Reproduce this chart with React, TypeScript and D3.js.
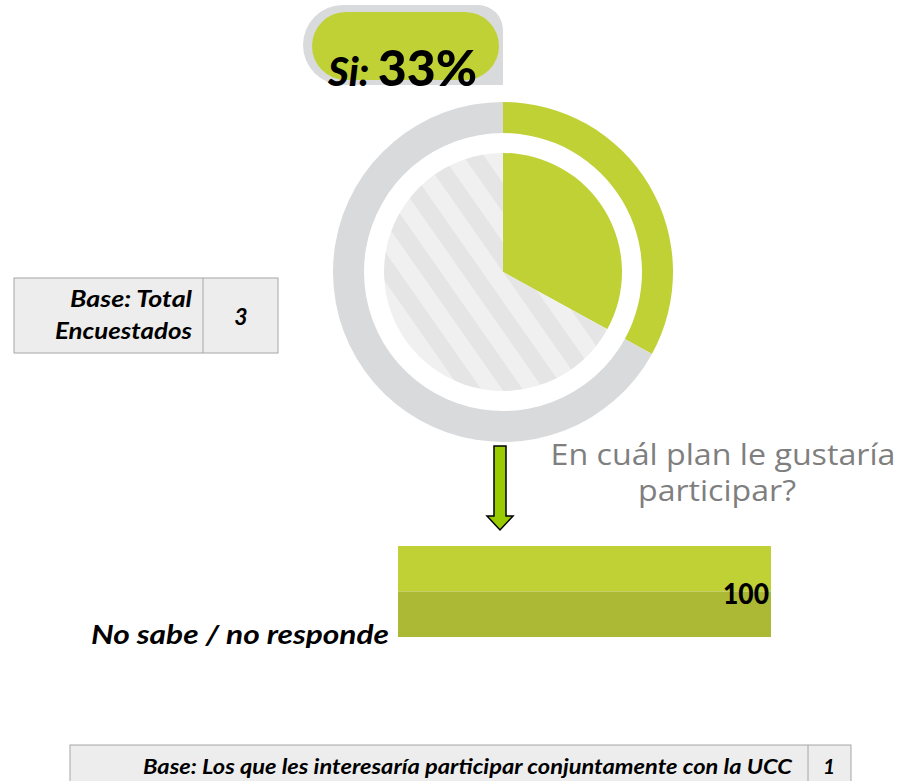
import React from "react";
import * as d3 from "d3";

const donutLabels = ["Si", "No"];
const donutValues = [33, 67];
const barCategories = ["No sabe / no responde"];
const barValues = [100];
const baseTotalLabel = ["Base: Total", "Encuestados"];
const baseTotalValue = 3;
const baseSubLabel = "Base: Los que les interesaría participar conjuntamente con la UCC";
const baseSubValue = 1;
const questionLines = ["En cuál plan le gustaría", "participar?"];

const GREEN = "#c0d136";
const GREEN_DARK = "#abb935";
const GREY_RING = "#d9dadc";
const CAL = "Lato, 'Liberation Sans', sans-serif";
const Q = "'Open Sans', 'Noto Sans', sans-serif";

export default function App() {
  const cx = 503;
  const cy = 272;
  const pie = d3.pie<number>().sort(null).value((d) => d);
  const arcs = pie(donutValues);
  const ringArc = d3.arc<d3.PieArcDatum<number>>().innerRadius(139).outerRadius(170);
  const innerArc = d3.arc<d3.PieArcDatum<number>>().innerRadius(0).outerRadius(119);

  const x = d3.scaleLinear().domain([0, 100]).range([398, 771]);
  const y = d3.scaleBand().domain(barCategories).range([546, 637]).padding(0);

  return (
    <svg width={900} height={781} style={{ position: "absolute", left: 0, top: 0 }}>
      <defs>
        <pattern id="stripes" patternUnits="userSpaceOnUse" width={34} height={34} patternTransform="rotate(-35)">
          <rect x={0} y={0} width={34} height={34} fill="#f0f0f0" />
          <rect x={0} y={0} width={17} height={34} fill="#e5e5e5" />
        </pattern>
      </defs>
      <rect width={900} height={781} fill="#ffffff" />

      {/* Top label pill */}
      <path d="M303,45 A40,40 0 0 1 343,5 L478,5 A25,25 0 0 1 503,30 L503,85 L343,85 A40,40 0 0 1 303,45 Z" fill={GREY_RING} />
      <rect x={312} y={12} width={187} height={68} rx={34} fill={GREEN} />
      <text x={328} y={86} fontFamily={CAL} fill="#000">
        <tspan fontStyle="italic" fontWeight={900} fontSize={40}>{donutLabels[0]}: </tspan>
        <tspan fontWeight={900} fontSize={50}>{`${donutValues[0]}%`}</tspan>
      </text>

      {/* Donut */}
      <g transform={`translate(${cx},${cy})`}>
        {arcs.map((a, i) => (
          <path key={"r" + i} d={ringArc(a) || ""} fill={i === 0 ? GREEN : GREY_RING} />
        ))}
        {arcs.map((a, i) => (
          <path key={"p" + i} d={innerArc(a) || ""} fill={i === 0 ? GREEN : "url(#stripes)"} />
        ))}
      </g>

      {/* Base total table */}
      <rect x={14} y={278} width={264} height={75} fill="#ededed" stroke="#a6a6a6" strokeWidth={1} />
      <line x1={203} y1={278} x2={203} y2={353} stroke="#a6a6a6" />
      <text x={192} y={307} textAnchor="end" fontFamily={CAL} fontStyle="italic" fontWeight={700} fontSize={23} fill="#000" textLength={122} lengthAdjust="spacingAndGlyphs">{baseTotalLabel[0]}</text>
      <text x={192} y={339} textAnchor="end" fontFamily={CAL} fontStyle="italic" fontWeight={700} fontSize={23} fill="#000" textLength={137} lengthAdjust="spacingAndGlyphs">{baseTotalLabel[1]}</text>
      <text x={241} y={325} textAnchor="middle" fontFamily={CAL} fontStyle="italic" fontWeight={700} fontSize={23} fill="#000">{baseTotalValue}</text>

      {/* Question */}
      <text x={723} y={465} textAnchor="middle" fontFamily={Q} fontSize={30} fill="#7f7f7f" textLength={345} lengthAdjust="spacingAndGlyphs">{questionLines[0]}</text>
      <text x={717} y={501} textAnchor="middle" fontFamily={Q} fontSize={30} fill="#7f7f7f" textLength={158} lengthAdjust="spacingAndGlyphs">{questionLines[1]}</text>

      {/* Arrow */}
      <path d="M494,446 L506,446 L506,516 L513,516 L500,530 L487,516 L494,516 Z" fill="#99cc00" stroke="#000" strokeWidth={1.5} strokeLinejoin="miter" />

      {/* Bar */}
      {barCategories.map((c, i) => {
        const y0 = y(c) as number;
        const h = y.bandwidth();
        const w = x(barValues[i]) - x(0);
        return (
          <g key={c}>
            <rect x={x(0)} y={y0} width={w} height={h / 2} fill={GREEN} />
            <rect x={x(0)} y={y0 + h / 2} width={w} height={h / 2} fill={GREEN_DARK} />
            <text x={x(barValues[i]) - 2} y={y0 + h / 2 + 12} textAnchor="end" fontFamily={CAL} fontWeight={900} fontSize={29} fill="#000" textLength={46} lengthAdjust="spacingAndGlyphs">{barValues[i]}</text>
            <text x={389} y={644} textAnchor="end" fontFamily={CAL} fontStyle="italic" fontWeight={700} fontSize={27} fill="#000" textLength={298} lengthAdjust="spacingAndGlyphs">{c}</text>
          </g>
        );
      })}

      {/* Bottom base table */}
      <rect x={70} y={745} width={781} height={50} fill="#ededed" stroke="#a6a6a6" strokeWidth={1} />
      <line x1={808} y1={745} x2={808} y2={781} stroke="#a6a6a6" />
      <text x={792} y={774} textAnchor="end" fontFamily={CAL} fontStyle="italic" fontWeight={700} fontSize={21} fill="#000" textLength={649} lengthAdjust="spacingAndGlyphs">{baseSubLabel}</text>
      <text x={829} y={774} textAnchor="middle" fontFamily={CAL} fontStyle="italic" fontWeight={700} fontSize={21} fill="#000">{baseSubValue}</text>
    </svg>
  );
}
